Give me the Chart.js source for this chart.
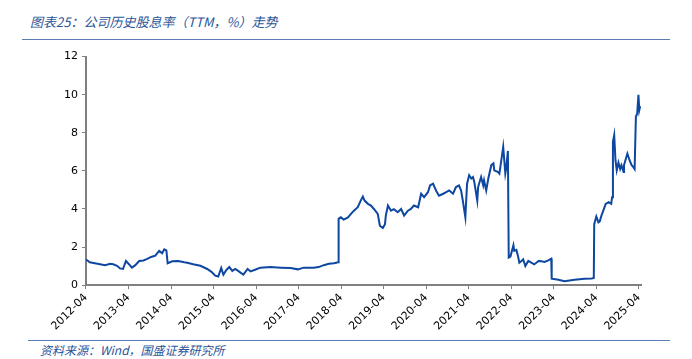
<!DOCTYPE html>
<html>
<head>
<meta charset="utf-8">
<script src="https://cdn.jsdelivr.net/npm/chart.js@4.4.1/dist/chart.umd.min.js"></script>
<style>
  body { margin: 0; background: #fff; width: 692px; height: 359px; position: relative; overflow: hidden; font-family: "Noto Sans CJK SC", sans-serif; }
  #title { position: absolute; left: 30px; top: 12px; font-size: 13px; font-style: italic; color: #2a5599; }
  #topline { position: absolute; left: 22px; top: 39px; width: 648px; height: 0; border-top: 1.5px solid #5b7fb5; }
  #bottomline { position: absolute; left: 28px; top: 340px; width: 642px; height: 0; border-top: 1px solid #5b7fb5; }
  #source { position: absolute; left: 40px; top: 341px; font-size: 12px; font-style: italic; color: #2a5599; }
  #wrap { position: absolute; left: 0; top: 46px; width: 692px; height: 292px; }
</style>
</head>
<body>
<div id="title">图表25：公司历史股息率（TTM，%）走势</div>
<div id="topline"></div>
<div id="wrap"><canvas id="myChart"></canvas></div>
<div id="bottomline"></div>
<div id="source">资料来源：Wind，国盛证券研究所</div>
<script>
// 时间（年份小数）与股息率
var years = [
  2012.25, 2012.34, 2012.46, 2012.58, 2012.70, 2012.82, 2012.89, 2012.98, 2013.05, 2013.12,
  2013.19, 2013.26, 2013.33, 2013.41, 2013.50, 2013.60, 2013.69, 2013.78, 2013.88, 2013.97,
  2014.04, 2014.09, 2014.14, 2014.17, 2014.28, 2014.42, 2014.56, 2014.63, 2014.77, 2014.94,
  2015.10, 2015.20, 2015.29, 2015.36, 2015.43, 2015.48, 2015.55, 2015.62, 2015.69, 2015.76,
  2015.86, 2015.95, 2016.05, 2016.12, 2016.24, 2016.35, 2016.59, 2016.83, 2017.06, 2017.23,
  2017.37, 2017.60, 2017.72, 2017.84, 2017.96, 2018.08, 2018.18, 2018.19, 2018.24, 2018.31,
  2018.41, 2018.48, 2018.55, 2018.64, 2018.71, 2018.76, 2018.80, 2018.88, 2018.95, 2019.02,
  2019.11, 2019.16, 2019.23, 2019.28, 2019.30, 2019.35, 2019.42, 2019.49, 2019.58, 2019.66,
  2019.73, 2019.82, 2019.89, 2019.96, 2020.06, 2020.13, 2020.20, 2020.29, 2020.34, 2020.41,
  2020.48, 2020.55, 2020.65, 2020.72, 2020.79, 2020.88, 2020.95, 2021.02, 2021.07, 2021.11,
  2021.17, 2021.21, 2021.26, 2021.31, 2021.35, 2021.38, 2021.45, 2021.47, 2021.54, 2021.59,
  2021.61, 2021.66, 2021.71, 2021.78, 2021.83, 2021.85, 2021.94, 2021.97, 2022.01, 2022.06,
  2022.11, 2022.13, 2022.17, 2022.19, 2022.23, 2022.30, 2022.32, 2022.37, 2022.41, 2022.44,
  2022.49, 2022.53, 2022.58, 2022.65, 2022.72, 2022.79, 2022.89, 2022.96, 2023.03, 2023.12,
  2023.19, 2023.20, 2023.36, 2023.50, 2023.74, 2023.97, 2024.14, 2024.19, 2024.20, 2024.25,
  2024.30, 2024.33, 2024.37, 2024.42, 2024.47, 2024.54, 2024.60, 2024.62, 2024.64, 2024.67,
  2024.70, 2024.73, 2024.77, 2024.81, 2024.84, 2024.89, 2024.90, 2024.98, 2025.03, 2025.08,
  2025.12, 2025.15, 2025.18, 2025.21, 2025.24, 2025.26, 2025.28
];
var dividendYield = [
  1.35, 1.20, 1.15, 1.10, 1.05, 1.12, 1.10, 1.02, 0.88, 0.85,
  1.27, 1.10, 0.92, 1.05, 1.27, 1.30, 1.38, 1.48, 1.55, 1.80,
  1.68, 1.88, 1.82, 1.15, 1.25, 1.27, 1.20, 1.18, 1.10, 1.02,
  0.85, 0.70, 0.50, 0.45, 0.90, 0.55, 0.80, 0.95, 0.75, 0.85,
  0.70, 0.55, 0.85, 0.72, 0.82, 0.92, 0.95, 0.92, 0.90, 0.83,
  0.92, 0.92, 0.95, 1.05, 1.12, 1.15, 1.20, 3.48, 3.56, 3.44,
  3.56, 3.74, 3.91, 4.09, 4.44, 4.65, 4.44, 4.27, 4.18, 4.00,
  3.74, 3.12, 3.00, 3.20, 3.65, 4.18, 3.91, 3.99, 3.83, 4.00,
  3.65, 3.91, 4.00, 4.18, 4.09, 4.80, 4.62, 4.88, 5.24, 5.33,
  4.97, 4.70, 4.80, 4.88, 4.97, 4.80, 5.15, 5.24, 4.97, 4.44,
  3.56, 5.33, 5.77, 5.60, 5.68, 5.42, 4.44, 5.15, 5.68, 5.24,
  5.50, 4.97, 5.60, 6.30, 6.39, 6.03, 5.94, 5.86, 6.47, 7.26,
  5.86, 6.12, 7.05, 1.45, 1.50, 2.10, 1.80, 1.85, 1.50, 1.18,
  1.27, 1.36, 1.00, 1.27, 1.18, 1.09, 1.27, 1.25, 1.22, 1.30,
  1.39, 0.34, 0.28, 0.21, 0.28, 0.34, 0.35, 0.38, 3.20, 3.60,
  3.30, 3.35, 3.65, 3.95, 4.27, 4.36, 4.27, 4.62, 7.53, 7.88,
  6.56, 6.03, 6.44, 6.10, 6.30, 5.94, 6.30, 6.91, 6.56, 6.30,
  6.20, 6.10, 8.85, 9.00, 10.00, 9.20, 9.40
];
var tickYears = [2012.25, 2013.25, 2014.25, 2015.25, 2016.25, 2017.25, 2018.25,
  2019.25, 2020.25, 2021.25, 2022.25, 2023.25, 2024.25, 2025.25];
var yTicks = [0, 2, 4, 6, 8, 10, 12];

var points = years.map(function (x, i) { return { x: x, y: dividendYield[i] }; });

var ctx = document.getElementById("myChart").getContext('2d');
var myChart = new Chart(ctx, {
    type: 'line',
    data: {
        datasets: [{
            data: points,
            borderColor: "#0d47a1",
            borderWidth: 2,
            pointRadius: 0,
            tension: 0
        }]
    },
    options: {
        responsive: true,
        maintainAspectRatio: false,
        animation: false,
        layout: { padding: { left: 60, right: 51, top: 8, bottom: 3 } },
        plugins: { legend: { display: false }, tooltip: { enabled: false } },
        scales: {
            x: {
                type: 'linear',
                min: 2012.25,
                max: 2025.3,
                afterBuildTicks: function (axis) {
                    axis.ticks = tickYears.map(function (v) { return { value: v }; });
                },
                ticks: {
                    autoSkip: false,
                    maxRotation: 45,
                    minRotation: 45,
                    color: '#000',
                    font: { family: 'DejaVu Sans', size: 11 },
                    padding: 2,
                    callback: function (v) { return Math.floor(v) + '-04'; }
                },
                grid: { drawOnChartArea: false, drawTicks: true, tickLength: 4, color: '#808080', lineWidth: 1 },
                border: { display: true, color: '#808080', width: 2 }
            },
            y: {
                min: 0,
                max: 12,
                afterBuildTicks: function (axis) {
                    axis.ticks = yTicks.map(function (v) { return { value: v }; });
                },
                ticks: {
                    color: '#000',
                    font: { family: 'DejaVu Sans', size: 11 },
                    padding: 4
                },
                grid: { drawOnChartArea: false, drawTicks: true, tickLength: 4, color: '#808080', lineWidth: 1 },
                border: { display: true, color: '#808080', width: 2 }
            }
        }
    }
});
</script>
</body>
</html>
